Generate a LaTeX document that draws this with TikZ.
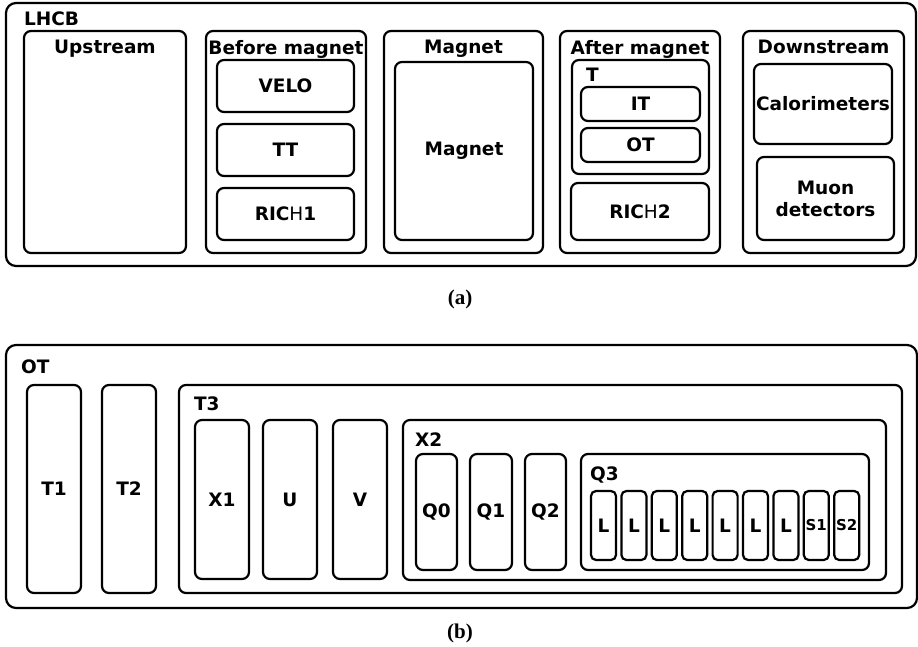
\documentclass[tikz,border=0pt]{standalone}
\usepackage{fontspec}
\setmainfont{DejaVu Sans}
\setsansfont{DejaVu Sans}
\newfontfamily\capfont{Liberation Serif}
\usetikzlibrary{positioning}

\begin{document}
\begin{tikzpicture}[x=1pt, y=-1pt,
  blk/.style={draw, line width=2.2pt, rounded corners=7pt, inner sep=0pt, align=center, font=\bfseries\fontsize{18.5}{22}\selectfont},
  big/.style={blk, rounded corners=10pt},
  thin/.style={blk, rounded corners=5pt},
  ttl/.style={inner sep=0pt, font=\bfseries\fontsize{18.5}{22}\selectfont},
  subcap/.style={inner sep=0pt, font=\capfont\bfseries\fontsize{21}{24}\selectfont}]
\useasboundingbox (0,0) rectangle (918,647);

% (a) LHCb layout
\node[big, minimum width=910pt, minimum height=263pt] (lhcb) at (461,134.5) {};
\node[ttl, below right=10pt and 19pt of lhcb.north west] (lhcbT) {LHCB};

\node[blk, minimum width=162pt, minimum height=222pt] (up) at (105,142) {};
\node[ttl, below=10pt of up.north] (upT) {Upstream};

\node[blk, minimum width=160pt, minimum height=222pt] (before) at (286,142) {};
\node[ttl, below=10pt of before.north] (beforeT) {Before magnet};
\node[blk, minimum width=137pt, minimum height=52pt] (velo) at (285.5,86) {VELO};
\node[blk, minimum width=137pt, minimum height=52pt] (tt) at (285.5,150) {TT};
\node[blk, minimum width=137pt, minimum height=52pt] (rich1) at (285.5,214) {RIC\mdseries H\bfseries 1};

\node[blk, minimum width=159pt, minimum height=222pt] (mag) at (463.5,142) {};
\node[ttl, below=10pt of mag.north] (magT) {Magnet};
\node[blk, minimum width=138pt, minimum height=178pt] (magIn) at (464,151) {Magnet};

\node[blk, minimum width=160pt, minimum height=222pt] (after) at (640,142) {};
\node[ttl, below=10pt of after.north] (afterT) {After magnet};
\node[blk, minimum width=137pt, minimum height=114pt] (tst) at (640.5,117) {};
\node[ttl, below right=9pt and 15pt of tst.north west] (tstT) {T};
\node[blk, minimum width=119pt, minimum height=34pt] (it) at (640.5,104) {IT};
\node[blk, minimum width=119pt, minimum height=34pt] (ot) at (640.5,145) {OT};
\node[blk, minimum width=138pt, minimum height=57pt] (rich2) at (640,211.5) {RIC\mdseries H\bfseries 2};

\node[blk, minimum width=161pt, minimum height=222pt] (down) at (823.5,142) {};
\node[ttl, below=10pt of down.north] (downT) {Downstream};
\node[blk, minimum width=138pt, minimum height=80pt] (calo) at (823,104) {Calorimeters};
\node[blk, minimum width=137pt, minimum height=83pt] (muon) at (825.5,198.5) {Muon\\detectors};

\node[subcap] (capA) at (460,299) {(a)};

% (b) OT layout
\node[big, minimum width=911pt, minimum height=263pt] (otB) at (461.5,476.5) {};
\node[ttl, below right=16pt and 16pt of otB.north west] (otBT) {OT};
\node[blk, minimum width=54pt, minimum height=208pt] (t1) at (54,489) {T1};
\node[blk, minimum width=54pt, minimum height=208pt] (t2) at (129,489) {T2};

\node[blk, minimum width=723pt, minimum height=208pt] (t3) at (540.5,489) {};
\node[ttl, below right=13pt and 16pt of t3.north west] (t3T) {T3};
\node[blk, minimum width=54pt, minimum height=159pt] (x1) at (222,499.5) {X1};
\node[blk, minimum width=54pt, minimum height=159pt] (u) at (290,499.5) {U};
\node[blk, minimum width=54pt, minimum height=159pt] (v) at (360,499.5) {V};

\node[blk, minimum width=483pt, minimum height=160pt] (x2) at (644.5,500) {};
\node[ttl, below right=14pt and 13pt of x2.north west] (x2T) {X2};
\node[blk, minimum width=41pt, minimum height=116pt] (q0) at (436.5,512) {Q0};
\node[blk, minimum width=42pt, minimum height=116pt] (q1) at (491,512) {Q1};
\node[blk, minimum width=41pt, minimum height=116pt] (q2) at (545.5,512) {Q2};

\node[blk, minimum width=288pt, minimum height=116pt] (q3) at (725,512) {};
\node[ttl, below right=14pt and 10pt of q3.north west] (q3T) {Q3};
\foreach \i in {0,...,6}
  \node[thin, minimum width=25pt, minimum height=69pt] (l\i) at (603.5+30.4*\i,525.5) {L};
\node[thin, minimum width=25pt, minimum height=69pt, font=\bfseries\fontsize{15}{17}\selectfont] (s1) at (816.3,525.5) {S1};
\node[thin, minimum width=25pt, minimum height=69pt, font=\bfseries\fontsize{15}{17}\selectfont] (s2) at (846.7,525.5) {S2};

\node[subcap] (capB) at (460,633) {(b)};
\end{tikzpicture}
\end{document}
